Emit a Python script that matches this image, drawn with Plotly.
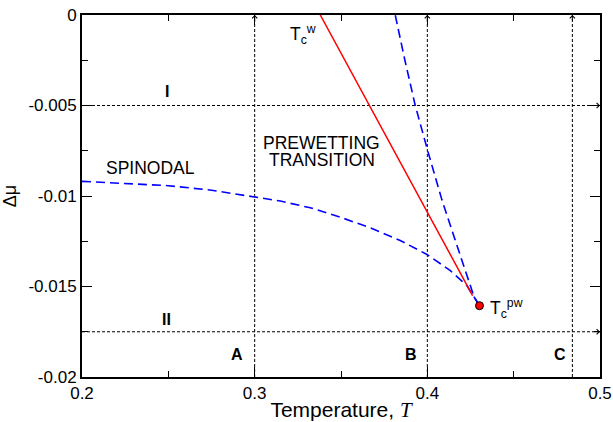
import plotly.graph_objects as go

# Spinodal, lower branch (temperature, chemical potential offset)
spin_low_T = [0.200, 0.225, 0.250, 0.275, 0.2975, 0.3149, 0.3322, 0.3496, 0.3670,
              0.3843, 0.3998, 0.4133, 0.4229, 0.4302]
spin_low_mu = [-0.00919, -0.00929, -0.00943, -0.00968, -0.01002, -0.01028, -0.01065,
               -0.01117, -0.01176, -0.01246, -0.01323, -0.01412, -0.01495, -0.01606]

# Spinodal, upper branch
spin_up_T = [0.4302, 0.4272, 0.4219, 0.4162, 0.4084, 0.4002, 0.3930, 0.3870, 0.3814]
spin_up_mu = [-0.01606, -0.0156, -0.0141, -0.0125, -0.0102, -0.0075, -0.0050, -0.0025, 0.0]

# Prewetting transition line
pw_T = [0.3380, 0.4262]
pw_mu = [0.0, -0.0155]

# Prewetting critical point
tcpw_T = [0.4302]
tcpw_mu = [-0.01606]

# Isotherm paths (A, B, C) and constant-mu paths (I, II)
iso_T = [0.300, 0.400, 0.484]
iso_labels = ["A", "B", "C"]
const_mu = [-0.005, -0.0175]
const_labels = ["I", "II"]

T_RANGE = [0.2, 0.5]
MU_RANGE = [-0.02, 0.0]

SANS = "Liberation Sans, Arial, sans-serif"
BLACK_DASH = "3px,2px"

fig = go.Figure()

for t in iso_T:
    fig.add_trace(go.Scatter(x=[t, t], y=MU_RANGE, mode="lines",
                             line=dict(color="black", width=1, dash=BLACK_DASH),
                             hoverinfo="skip", showlegend=False))
for m in const_mu:
    fig.add_trace(go.Scatter(x=T_RANGE, y=[m, m], mode="lines",
                             line=dict(color="black", width=1, dash=BLACK_DASH),
                             hoverinfo="skip", showlegend=False))

fig.add_trace(go.Scatter(x=spin_low_T, y=spin_low_mu, mode="lines",
                         line=dict(color="#0000ff", width=1.6, dash="9px,5px"),
                         showlegend=False))
fig.add_trace(go.Scatter(x=spin_up_T, y=spin_up_mu, mode="lines",
                         line=dict(color="#0000ff", width=1.6, dash="9px,5px"),
                         showlegend=False))
fig.add_trace(go.Scatter(x=pw_T, y=pw_mu, mode="lines",
                         line=dict(color="#ff0000", width=1.5),
                         showlegend=False))
fig.add_trace(go.Scatter(x=tcpw_T, y=tcpw_mu, mode="markers",
                         marker=dict(color="#ff0000", size=8,
                                     line=dict(color="black", width=1)),
                         showlegend=False))

annotations = []
# Arrow heads at the ends of the paths
for t in iso_T:
    annotations.append(dict(x=t, y=MU_RANGE[1], xref="x", yref="y", text="",
                            showarrow=True, ax=0, ay=7, arrowhead=4, arrowsize=1,
                            arrowwidth=1, arrowcolor="black"))
for m in const_mu:
    annotations.append(dict(x=T_RANGE[1], y=m, xref="x", yref="y", text="",
                            showarrow=True, ax=-7, ay=0, arrowhead=4, arrowsize=1,
                            arrowwidth=1, arrowcolor="black"))

bold = dict(family=SANS, size=16, color="black")
for t, lab in zip([0.2895, 0.3907, 0.4767], iso_labels):
    annotations.append(dict(x=t, y=-0.01877, xref="x", yref="y", text=f"<b>{lab}</b>",
                            showarrow=False, font=bold))
for m, lab in zip([-0.00425, -0.01685], const_labels):
    annotations.append(dict(x=0.2490, y=m, xref="x", yref="y", text=f"<b>{lab}</b>",
                            showarrow=False, font=bold))

txt = dict(family=SANS, size=17.5, color="black")
annotations += [
    dict(x=0.2398, y=-0.00847, xref="x", yref="y", text="SPINODAL",
         showarrow=False, font=txt),
    dict(x=0.3385, y=-0.00707, xref="x", yref="y", text="PREWETTING",
         showarrow=False, font=txt),
    dict(x=0.3390, y=-0.00799, xref="x", yref="y", text="TRANSITION",
         showarrow=False, font=txt),
    dict(x=0.3195, y=-0.0011, xref="x", yref="y", xanchor="left",
         text="T<sub>c</sub><sup>w</sup>", showarrow=False, font=txt),
    dict(x=0.4353, y=-0.0162, xref="x", yref="y", xanchor="left",
         text="T<sub>c</sub><sup>pw</sup>", showarrow=False, font=txt),
]

axis_common = dict(
    showline=True, linecolor="black", linewidth=2, mirror="ticks",
    ticks="inside", ticklen=10, tickwidth=1, tickcolor="black",
    showgrid=False, zeroline=False, automargin=False,
    tickfont=dict(family=SANS, size=17, color="black"),
)

fig.update_layout(
    width=613, height=422,
    margin=dict(l=82, r=13, t=15, b=45),
    paper_bgcolor="white", plot_bgcolor="white",
    showlegend=False,
    annotations=annotations,
    xaxis=dict(
        range=T_RANGE, tickvals=[0.2, 0.3, 0.4, 0.5], ticktext=["0.2", "0.3", "0.4", "0.5"],
        minor=dict(tickvals=[0.25, 0.35, 0.45], ticks="inside", ticklen=6,
                   tickcolor="black", tickwidth=1),
        title=dict(text="Temperature, <span style=\"font-family:'Liberation Serif'\"><i>T</i></span>",
                   font=dict(family=SANS, size=21, color="black")),
        ticklabelstandoff=0,
        **axis_common,
    ),
    yaxis=dict(
        range=MU_RANGE, tickvals=[0, -0.005, -0.01, -0.015, -0.02],
        ticktext=["0", "-0.005", "-0.01", "-0.015", "-0.02"],
        minor=dict(tickvals=[-0.0025, -0.0075, -0.0125, -0.0175], ticks="inside",
                   ticklen=6, tickcolor="black", tickwidth=1),
        title=dict(text="Δμ", font=dict(family=SANS, size=18, color="black")),
        ticklabelstandoff=0,
        **axis_common,
    ),
)

fig.write_html("out.html")
